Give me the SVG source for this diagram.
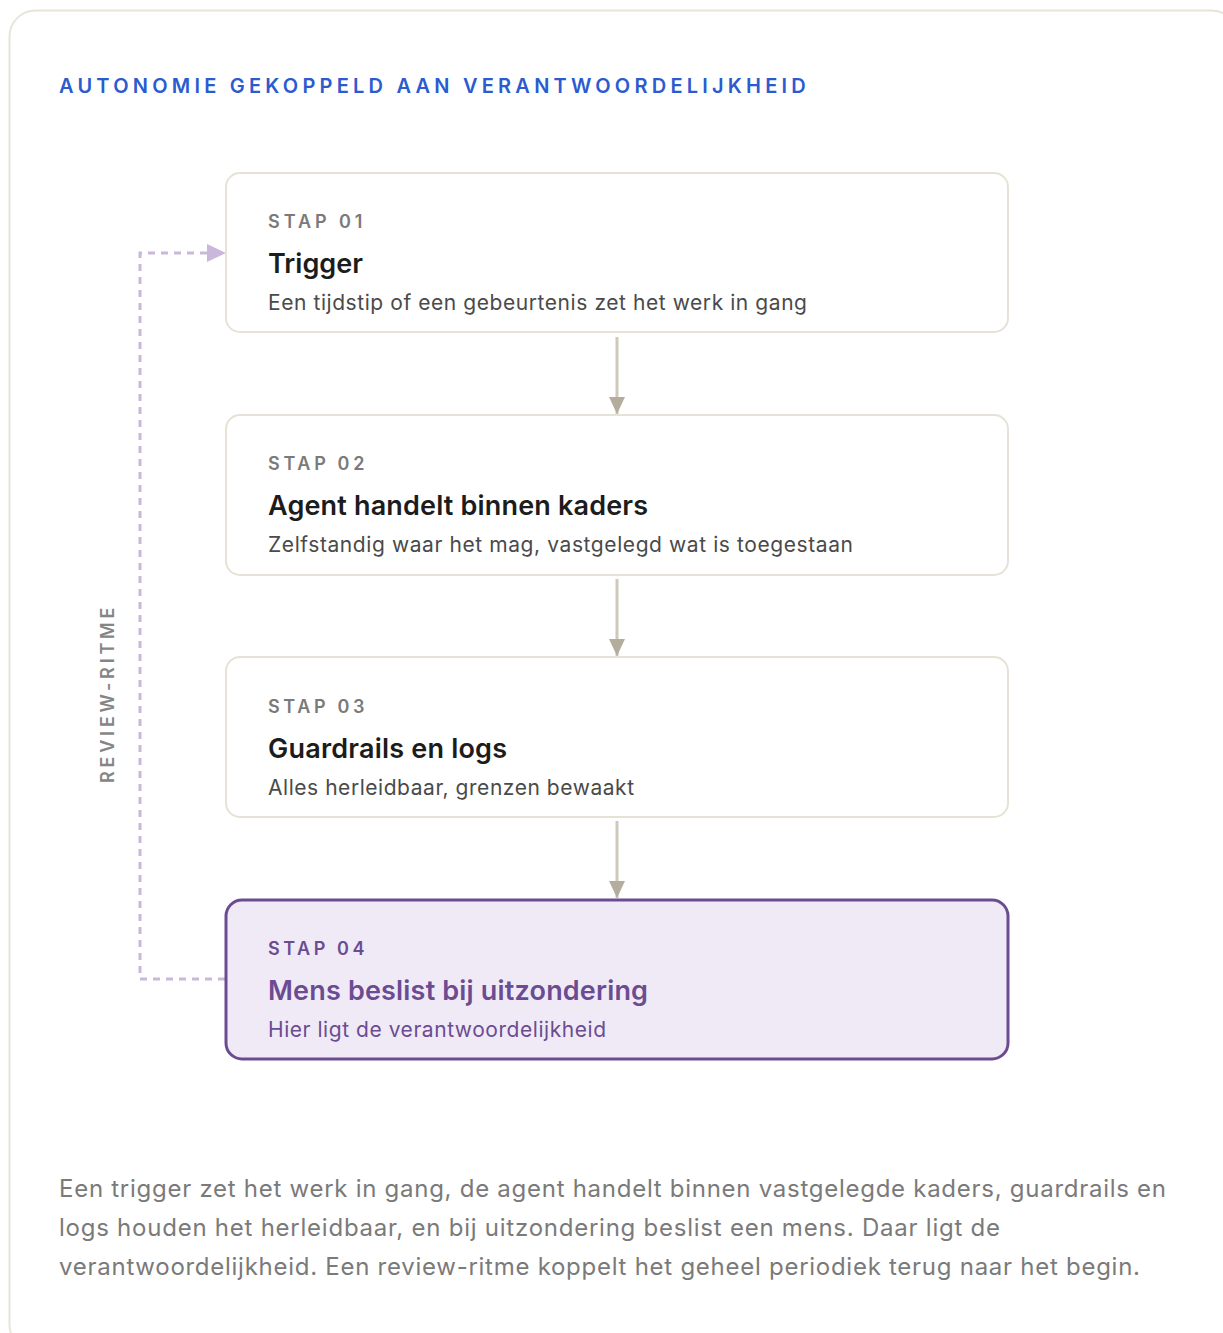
<svg xmlns="http://www.w3.org/2000/svg" width="1223" height="1333" viewBox="0 0 1223 1333">
<style>
.card{fill:#fff;stroke:#e6e2d6;stroke-width:2}
.step{font-family:Inter,"Liberation Sans",sans-serif;font-size:18px;font-weight:600;letter-spacing:2.6px;fill:#7a7a7a}
.ttl{font-family:Inter,"Liberation Sans",sans-serif;font-size:27px;font-weight:600;fill:#1c1c1c}
.desc{font-family:Inter,"Liberation Sans",sans-serif;font-size:21px;fill:#4a4a4a}
.flow{stroke:#cfc9bc;stroke-width:3;fill:none}
.loop{stroke:#c9b8dc;stroke-width:3;fill:none;stroke-dasharray:7 6}
.body{font-family:Inter,"Liberation Sans",sans-serif;font-size:24px;fill:#7a7a7a}
</style>
<defs>
<marker id="ah" markerWidth="18" markerHeight="16" refX="17" refY="8" orient="auto" markerUnits="userSpaceOnUse">
<path d="M0,0 L17,8 L0,16 Z" fill="#b4ad9e"/>
</marker>
<marker id="ahp" markerWidth="20" markerHeight="18" refX="19" refY="9" orient="auto" markerUnits="userSpaceOnUse">
<path d="M0,0 L19,9 L0,18 Z" fill="#c9b8dc"/>
</marker>
</defs>
<rect x="9.5" y="10.5" width="1228" height="1340" rx="26" fill="#fff" stroke="#e8e4d8" stroke-width="2"/>
<text x="59" y="93" font-family="Inter,'Liberation Sans',sans-serif" font-size="20" font-weight="600" letter-spacing="3.2" fill="#2b5bcf" textLength="750" lengthAdjust="spacing">AUTONOMIE GEKOPPELD AAN VERANTWOORDELIJKHEID</text>
<g id="connectors">
<line class="flow" x1="617" y1="337" x2="617" y2="414" marker-end="url(#ah)"/>
<line class="flow" x1="617" y1="579" x2="617" y2="656" marker-end="url(#ah)"/>
<line class="flow" x1="617" y1="821" x2="617" y2="898" marker-end="url(#ah)"/>
<path class="loop" d="M225,979 H140 V253 H226" marker-end="url(#ahp)"/>
<text transform="translate(114,694) rotate(-90)" text-anchor="middle" font-family="Inter,'Liberation Sans',sans-serif" font-size="18" font-weight="600" letter-spacing="2.6" fill="#858585" textLength="178" lengthAdjust="spacing">REVIEW-RITME</text>
</g>
<g id="node1">
<rect class="card" x="226" y="173" width="782" height="159" rx="14"/>
<text class="step" x="268" y="228" textLength="97" lengthAdjust="spacing">STAP 01</text>
<text class="ttl" x="268" y="273" textLength="95" lengthAdjust="spacing">Trigger</text>
<text class="desc" x="268" y="310" textLength="539" lengthAdjust="spacing">Een tijdstip of een gebeurtenis zet het werk in gang</text>
</g>
<g id="node2">
<rect class="card" x="226" y="415" width="782" height="160" rx="14"/>
<text class="step" x="268" y="470" textLength="99" lengthAdjust="spacing">STAP 02</text>
<text class="ttl" x="268" y="515" textLength="380" lengthAdjust="spacing">Agent handelt binnen kaders</text>
<text class="desc" x="268" y="552" textLength="585" lengthAdjust="spacing">Zelfstandig waar het mag, vastgelegd wat is toegestaan</text>
</g>
<g id="node3">
<rect class="card" x="226" y="657" width="782" height="160" rx="14"/>
<text class="step" x="268" y="713" textLength="99" lengthAdjust="spacing">STAP 03</text>
<text class="ttl" x="268" y="758" textLength="239" lengthAdjust="spacing">Guardrails en logs</text>
<text class="desc" x="268" y="795" textLength="366" lengthAdjust="spacing">Alles herleidbaar, grenzen bewaakt</text>
</g>
<g id="node4">
<rect x="226" y="900" width="782" height="159" rx="16" fill="#f0eaf6" stroke="#6b4c93" stroke-width="3"/>
<text class="step" x="268" y="955" style="fill:#6b4c93" textLength="99" lengthAdjust="spacing">STAP 04</text>
<text class="ttl" x="268" y="1000" style="fill:#6b4c93" textLength="380" lengthAdjust="spacing">Mens beslist bij uitzondering</text>
<text class="desc" x="268" y="1037" style="fill:#6b4c93" textLength="338" lengthAdjust="spacing">Hier ligt de verantwoordelijkheid</text>
</g>
<text class="body" x="59" y="1197" textLength="1107" lengthAdjust="spacing">Een trigger zet het werk in gang, de agent handelt binnen vastgelegde kaders, guardrails en</text>
<text class="body" x="59" y="1236" textLength="941" lengthAdjust="spacing">logs houden het herleidbaar, en bij uitzondering beslist een mens. Daar ligt de</text>
<text class="body" x="59" y="1275" textLength="1081" lengthAdjust="spacing">verantwoordelijkheid. Een review-ritme koppelt het geheel periodiek terug naar het begin.</text>
</svg>
